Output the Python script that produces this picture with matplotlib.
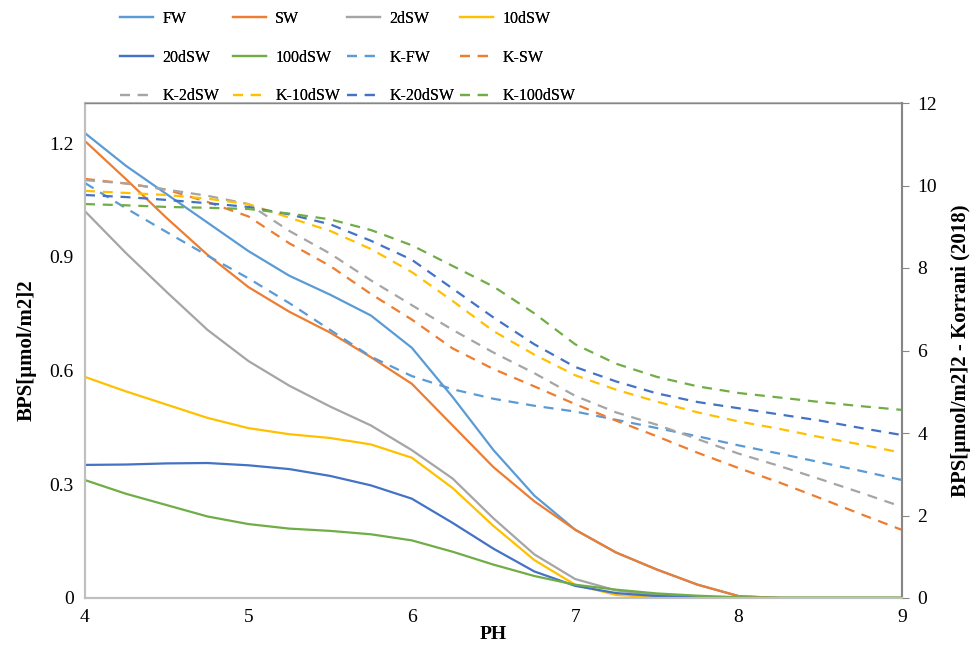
import matplotlib
matplotlib.use("Agg")
import matplotlib.pyplot as plt

plt.rcParams['font.family'] = ['Liberation Serif', 'DejaVu Serif']

ph = [4, 4.25, 4.5, 4.75, 5, 5.25, 5.5, 5.75, 6, 6.25, 6.5, 6.75, 7,
      7.25, 7.5, 7.75, 8, 8.25, 8.5, 8.75, 9]

# measured BPS, left axis
fw = [1.226, 1.14, 1.065, 0.99, 0.915, 0.85, 0.8, 0.745, 0.66, 0.53, 0.39,
      0.27, 0.18, 0.12, 0.075, 0.035, 0.005, 0, 0, 0, 0]
sw = [1.205, 1.105, 1.002, 0.905, 0.82, 0.755, 0.70, 0.635, 0.565, 0.455, 0.345,
      0.255, 0.18, 0.12, 0.075, 0.035, 0.005, 0, 0, 0, 0]
sw2 = [1.02, 0.91, 0.807, 0.707, 0.625, 0.56, 0.505, 0.455, 0.39, 0.315, 0.21,
       0.115, 0.05, 0.02, 0.008, 0.003, 0, 0, 0, 0, 0]
sw10 = [0.583, 0.545, 0.51, 0.475, 0.448, 0.432, 0.422, 0.405, 0.37, 0.29, 0.19,
        0.10, 0.035, 0.008, 0.002, 0, 0, 0, 0, 0, 0]
sw20 = [0.351, 0.352, 0.355, 0.356, 0.35, 0.34, 0.322, 0.297, 0.262, 0.198, 0.13,
        0.07, 0.032, 0.013, 0.005, 0.002, 0, 0, 0, 0, 0]
sw100 = [0.311, 0.275, 0.245, 0.215, 0.195, 0.183, 0.177, 0.168, 0.152, 0.122,
         0.088, 0.058, 0.035, 0.022, 0.012, 0.006, 0.002, 0.001, 0.001, 0.001, 0.001]

# Korrani (2018), right axis
k_fw = [10.06, 9.45, 8.87, 8.3, 7.75, 7.15, 6.5, 5.85, 5.38, 5.06, 4.83, 4.66,
        4.52, 4.32, 4.12, 3.92, 3.70, 3.50, 3.29, 3.08, 2.86]
k_sw = [10.16, 10.05, 9.9, 9.6, 9.25, 8.6, 8.05, 7.37, 6.75, 6.05, 5.55, 5.13,
        4.7, 4.3, 3.92, 3.52, 3.15, 2.8, 2.42, 2.03, 1.65]
k_2dsw = [10.13, 10.05, 9.9, 9.75, 9.55, 8.9, 8.35, 7.7, 7.1, 6.5, 5.95, 5.45,
          4.9, 4.5, 4.2, 3.85, 3.5, 3.2, 2.88, 2.55, 2.21]
k_10dsw = [9.87, 9.82, 9.77, 9.68, 9.55, 9.22, 8.9, 8.46, 7.9, 7.2, 6.47, 5.9,
           5.4, 5.05, 4.76, 4.5, 4.28, 4.1, 3.9, 3.72, 3.52]
k_20dsw = [9.77, 9.72, 9.65, 9.57, 9.48, 9.3, 9.06, 8.66, 8.2, 7.5, 6.8, 6.15,
           5.6, 5.25, 4.96, 4.75, 4.6, 4.45, 4.3, 4.12, 3.95]
k_100dsw = [9.55, 9.52, 9.48, 9.46, 9.43, 9.32, 9.18, 8.92, 8.55, 8.05, 7.55, 6.9,
            6.15, 5.68, 5.36, 5.13, 4.97, 4.86, 4.75, 4.65, 4.56]

colors = ['#5B9BD5', '#ED7D31', '#A5A5A5', '#FFC000', '#4472C4', '#70AD47']
names = ['FW', 'SW', '2dSW', '10dSW', '20dSW', '100dSW']

fig = plt.figure(figsize=(9.72, 6.48), dpi=100)
ax = fig.add_axes([85 / 972, 1 - 598 / 648, 817 / 972, 495 / 648])
ax2 = ax.twinx()

handles = []
for vals, c, n in zip([fw, sw, sw2, sw10, sw20, sw100], colors, names):
    h, = ax.plot(ph, vals, color=c, lw=1.6, label=n)
    handles.append(h)
for vals, c, n in zip([k_fw, k_sw, k_2dsw, k_10dsw, k_20dsw, k_100dsw], colors, names):
    h, = ax2.plot(ph, vals, color=c, lw=1.6, dashes=(4.5, 3.5), label='K-' + n)
    handles.append(h)

ax.set_xlim(4, 9)
ax.set_ylim(0, 1.2 * 495 / 455)
ax.set_yticks([0, 0.3, 0.6, 0.9, 1.2])
ax.set_yticklabels(['0', '0.3', '0.6', '0.9', '1.2'])
ax.set_xticks([4, 5, 6, 7, 8, 9])
ax2.set_ylim(0, 12)
ax2.set_yticks(range(0, 13, 2))

ax.tick_params(axis='both', length=0, labelsize=14, pad=8)
ax2.tick_params(axis='y', length=5, color='#868686', labelsize=14, pad=6)

for a in (ax, ax2):
    for s in a.spines.values():
        s.set_color('#BFBFBF')
        s.set_linewidth(1.5)
ax2.spines['right'].set_color('#868686')
ax2.spines['top'].set_color('#868686')
ax2.spines['top'].set_linewidth(1.0)

ax.set_xlabel('PH', fontsize=14, fontweight='bold', labelpad=0)
ax.set_ylabel('BPS[\u03bcmol/m2]2', fontsize=15, fontweight='bold', labelpad=9)
ax2.set_ylabel('BPS[\u03bcmol/m2]2 - Korrani (2018)', fontsize=15, fontweight='bold',
               labelpad=10)

# legend: 3 rows x 4 columns, filled row by row, one legend per column
col_x = [120, 233, 347, 460]
for j, x in enumerate(col_x):
    hs = [handles[j], handles[j + 4], handles[j + 8]]
    leg = fig.legend(hs, [h.get_label() for h in hs], loc='upper left',
                     bbox_to_anchor=(x / 972, 1 - 11 / 648), frameon=False,
                     fontsize=11.5, handlelength=2.05, handletextpad=0.6,
                     labelspacing=1.42, borderpad=0, borderaxespad=0)
    fig.add_artist(leg)

fig.savefig('out.png', dpi=100)
